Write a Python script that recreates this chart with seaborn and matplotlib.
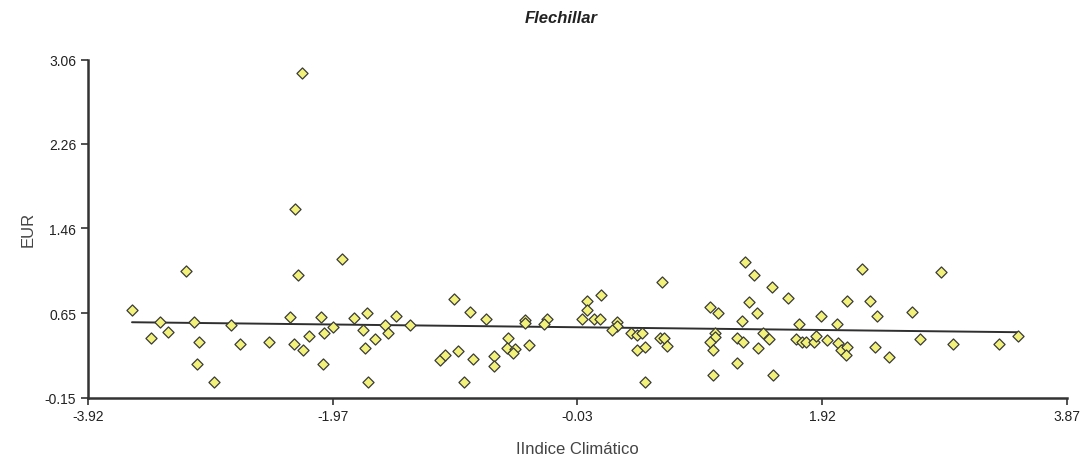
import matplotlib
matplotlib.use("Agg")
import matplotlib.pyplot as plt
import seaborn as sns
import pandas as pd

# Climate index vs. EUR for Flechillar
indice = [
    -3.57, -3.14, -3.35, -3.42, -3.28, -3.08, -3.04, -3.05, -2.92, -2.78,
    -2.71, -2.48, -2.25, -2.31, -2.28, -2.21, -2.16, -2.07, -2.04, -1.97,
    -2.05, -1.90, -2.22, -2.27, -1.80, -1.70, -1.73, -1.64, -1.72, -1.69,
    -1.56, -1.53, -1.47, -1.36, -1.01, -0.88, -0.75, -1.12, -1.08, -0.98,
    -0.86, -0.93, -0.69, -0.69, -0.58, -0.59, -0.52, -0.54, -0.41, -0.44,
    -0.44, -0.27, -0.29, 0.05, 0.16, 0.05, 0.01, 0.11, 0.15, 0.29,
    0.29, 0.25, 0.40, 0.45, 0.49, 0.45, 0.51, 0.65, 0.63, 0.66,
    0.69, 0.51, 1.03, 1.09, 1.07, 1.07, 1.03, 1.05, 1.05, 1.24,
    1.29, 1.24, 1.28, 1.34, 1.40, 1.38, 1.31, 1.41, 1.45, 1.52,
    1.50, 1.53, 1.65, 1.74, 1.71, 1.76, 1.79, 1.86, 1.87, 1.91,
    1.96, 2.04, 2.05, 2.07, 2.12, 2.11, 2.12, 2.24, 2.30, 2.36,
    2.34, 2.45, 2.64, 2.87, 2.70, 2.96, 3.33, 3.48,
]
eur = [
    0.68, 1.05, 0.57, 0.42, 0.47, 0.57, 0.38, 0.17, 0.00, 0.54,
    0.36, 0.38, 1.02, 0.62, 0.36, 0.30, 0.44, 0.62, 0.46, 0.52,
    0.17, 1.17, 2.93, 1.64, 0.61, 0.65, 0.49, 0.41, 0.32, 0.00,
    0.54, 0.46, 0.63, 0.54, 0.79, 0.66, 0.60, 0.21, 0.26, 0.29,
    0.22, 0.00, 0.25, 0.15, 0.42, 0.32, 0.31, 0.27, 0.35, 0.59,
    0.56, 0.60, 0.55, 0.77, 0.83, 0.68, 0.60, 0.60, 0.60, 0.57,
    0.53, 0.49, 0.46, 0.45, 0.46, 0.30, 0.33, 0.95, 0.42, 0.42,
    0.34, 0.00, 0.71, 0.65, 0.46, 0.43, 0.38, 0.30, 0.07, 0.42,
    0.38, 0.18, 0.58, 0.76, 0.65, 1.02, 1.14, 0.32, 0.46, 0.90,
    0.41, 0.07, 0.80, 0.55, 0.41, 0.38, 0.38, 0.38, 0.44, 0.63,
    0.40, 0.55, 0.37, 0.30, 0.33, 0.26, 0.77, 1.07, 0.77, 0.63,
    0.33, 0.24, 0.66, 1.04, 0.41, 0.36, 0.36, 0.44,
]

x_ticks = [-3.92, -1.97, -0.03, 1.92, 3.87]
y_ticks = [-0.15, 0.65, 1.46, 2.26, 3.06]

df = pd.DataFrame({"indice": indice, "eur": eur})

sns.set_style("ticks")
plt.rcParams["font.family"] = ["Liberation Sans", "DejaVu Sans"]

fig = plt.figure(figsize=(10.8, 4.64), dpi=100)
ax = fig.add_axes([0.0815, 0.1407, 0.9065, 0.7285])

sns.regplot(data=df, x="indice", y="eur", scatter=False, ci=None, truncate=True,
            line_kws={"color": "#2f2f2f", "linewidth": 1.4}, ax=ax)
sns.scatterplot(data=df, x="indice", y="eur", marker="D", s=32,
                color="#f2f27a", edgecolor="#3a3a3a", linewidth=0.9,
                zorder=3, ax=ax)

ax.set_xlim(x_ticks[0], x_ticks[-1])
ax.set_ylim(y_ticks[0], y_ticks[-1])
ax.set_xticks(x_ticks)
ax.set_xticklabels([f"{v:.2f}" for v in x_ticks])
ax.set_yticks(y_ticks)
ax.set_yticklabels([f"{v:.2f}" for v in y_ticks])

for side in ("top", "right"):
    ax.spines[side].set_visible(False)
for side in ("left", "bottom"):
    ax.spines[side].set_color("#333333")
    ax.spines[side].set_linewidth(1.8)

ax.tick_params(axis="both", direction="out", length=5, width=1.2,
               color="#333333", labelsize=10, labelcolor="#222222")
ax.tick_params(axis="x", pad=3)

ax.set_xlabel("IIndice Climático", fontsize=12, color="#444444")
ax.set_ylabel("EUR", fontsize=12, color="#444444")
ax.xaxis.set_label_coords(0.5, -0.127)
ax.yaxis.set_label_coords(-0.054, 0.5)
fig.text(0.52, 0.96, "Flechillar", ha="center", va="center", fontsize=12,
         fontweight="bold", fontstyle="italic", color="#222222")

fig.savefig("out.png", dpi=100)
